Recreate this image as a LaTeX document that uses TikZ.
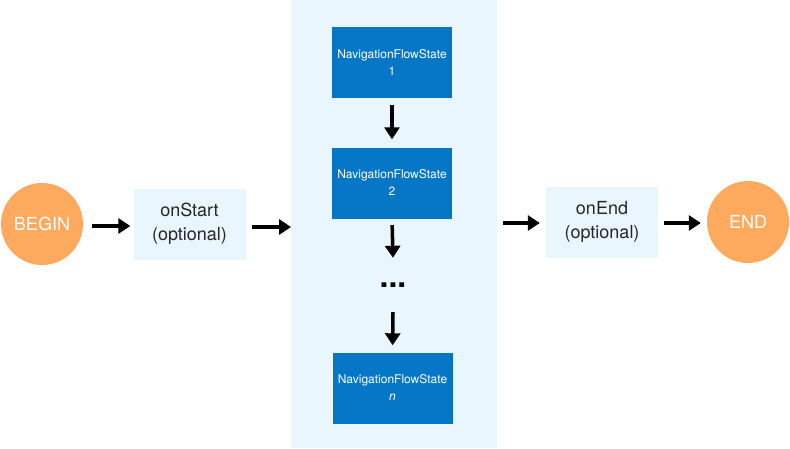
\documentclass[tikz,border=0pt]{standalone}
\usepackage{fontspec}
\setmainfont{TeX Gyre Heros}
\usetikzlibrary{arrows.meta}
\definecolor{orng}{HTML}{FDA95E}
\definecolor{nblue}{HTML}{0677C6}
\definecolor{pale}{HTML}{EAF6FD}
\tikzset{
  term/.style={circle,fill=orng,minimum size=82pt,inner sep=0pt,text=white,font=\fontsize{18}{20}\selectfont},
  hook/.style={fill=pale,minimum width=112pt,minimum height=71pt,inner sep=0pt,align=center,text=black!85,font=\fontsize{18}{24}\selectfont},
  state/.style={fill=nblue,minimum width=120pt,minimum height=71pt,inner sep=0pt,align=center,text=white,font=\fontsize{12}{17}\selectfont},
  arr/.style={line width=3.5pt,-{Triangle[length=12pt,width=15pt]}},
}
\begin{document}
\begin{tikzpicture}[x=1pt,y=-1pt]
\useasboundingbox (0,0) rectangle (790,448);
\fill[pale] (291,0) rectangle (497,448);
\node[term] (begin) at (42,224) {BEGIN};
\node[hook] (onstart) at (189.5,224) {onStart\\(optional)};
\node[state] (s1) at (392,62.5) {NavigationFlowState\\1};
\node[state] (s2) at (392,183) {NavigationFlowState\\2};
\node[minimum height=54pt,inner sep=0pt,font=\bfseries\fontsize{32}{32}\selectfont] (dots) at (393,285) {...};
\node[state] (sn) at (392.5,388) {NavigationFlowState\\\textit{n}};
\node[hook] (onend) at (602,222) {onEnd\\(optional)};
\node[term] (end) at (748,222) {END};
\coordinate (p1) at (291,227);
\coordinate (p2) at (497,223);
\draw[arr,shorten <=9pt,shorten >=3pt] (begin.east |- 0,226) -- (onstart.west |- 0,226);
\draw[arr,shorten <=6pt] (onstart.east |- 0,227) -- (p1);
\draw[arr,shorten <=6pt,shorten >=6pt] (p2) -- (onend.west |- 0,223);
\draw[arr,shorten <=6pt,shorten >=6pt] (onend.east |- 0,223) -- (end.west |- 0,223);
\draw[arr,shorten <=7pt,shorten >=8pt] (s1.south) -- (s2.north);
\draw[arr,shorten <=6.5pt] (s2.south) -- (dots.north);
\draw[arr,shorten >=7pt] (dots.south) -- (sn.north);
\end{tikzpicture}
\end{document}
